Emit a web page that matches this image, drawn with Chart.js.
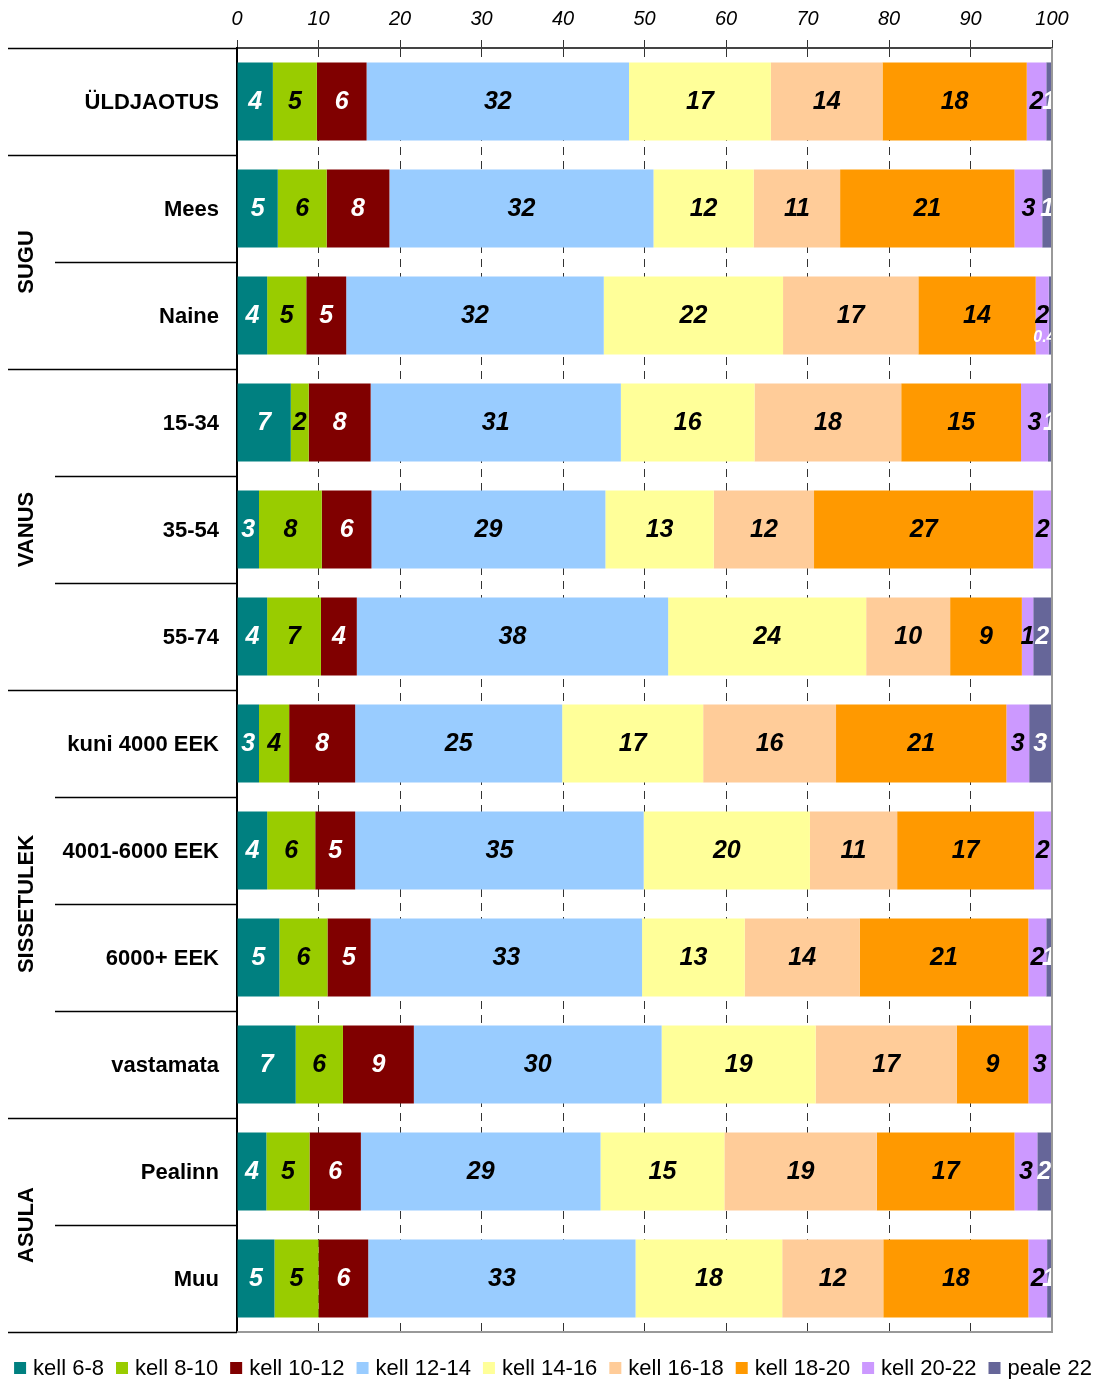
<!DOCTYPE html>
<html>
<head>
<meta charset="utf-8">
<script src="https://cdn.jsdelivr.net/npm/chart.js@4.4.1/dist/chart.umd.min.js"></script>
<style>
  html, body { margin: 0; padding: 0; background: #fff; }
</style>
</head>
<body>
<canvas id="chart" width="1096" height="1379"></canvas>
<script>
const categories = ['ÜLDJAOTUS', 'Mees', 'Naine', '15-34', '35-54', '55-74',
  'kuni 4000 EEK', '4001-6000 EEK', '6000+ EEK', 'vastamata', 'Pealinn', 'Muu'];

// group name, first and last row index
const groupNames = ['', 'SUGU', 'VANUS', 'SISSETULEK', 'ASULA'];
const groupStart = [0, 1, 3, 6, 10];
const groupEnd = [0, 2, 5, 9, 11];

const seriesNames = ['kell 6-8', 'kell 8-10', 'kell 10-12', 'kell 12-14', 'kell 14-16',
  'kell 16-18', 'kell 18-20', 'kell 20-22', 'peale 22'];

const kell6_8   = [4.4, 5.0, 3.7, 6.6, 2.7, 3.7, 2.7, 3.7, 5.2, 7.2, 3.6, 4.6];
const kell8_10  = [5.4, 6.0, 4.8, 2.2, 7.7, 6.6, 3.7, 5.9, 5.9, 5.8, 5.3, 5.4];
const kell10_12 = [6.1, 7.7, 4.9, 7.6, 6.1, 4.4, 8.1, 4.9, 5.3, 8.7, 6.3, 6.1];
const kell12_14 = [32.2, 32.4, 31.6, 30.7, 28.7, 38.2, 25.4, 35.4, 33.3, 30.4, 29.4, 32.8];
const kell14_16 = [17.4, 12.3, 22.0, 16.4, 13.3, 24.3, 17.3, 20.4, 12.6, 18.9, 15.2, 18.0];
const kell16_18 = [13.7, 10.6, 16.6, 18.0, 12.3, 10.3, 16.3, 10.7, 14.1, 17.3, 18.7, 12.4];
const kell18_20 = [17.7, 21.4, 14.4, 14.7, 26.9, 8.8, 20.9, 16.8, 20.7, 8.8, 16.9, 17.8];
const kell20_22 = [2.4, 3.4, 1.6, 3.3, 2.3, 1.4, 2.8, 2.1, 2.2, 2.8, 2.8, 2.3];
const peale22   = [0.7, 1.2, 0.4, 0.5, 0, 2.2, 2.7, 0, 0.7, 0, 1.7, 0.5];

const xTicks = [0, 10, 20, 30, 40, 50, 60, 70, 80, 90, 100];

const seriesValues = [kell6_8, kell8_10, kell10_12, kell12_14, kell14_16,
  kell16_18, kell18_20, kell20_22, peale22];
const colors = ['#008080', '#99CC00', '#800000', '#99CCFF', '#FFFF99',
  '#FFCC99', '#FF9900', '#CC99FF', '#666699'];
const textColors = ['#fff', '#000', '#fff', '#000', '#000', '#000', '#000', '#000', '#fff'];

const FONT = '"Liberation Sans", Arial, sans-serif';

// values inside bars, category names, group names, row lines and legend
const decorPlugin = {
  id: 'decor',
  afterDatasetsDraw(chart) {
    const ctx = chart.ctx;
    const area = chart.chartArea;
    ctx.save();
    ctx.beginPath();
    ctx.rect(area.left, area.top, area.right - area.left, area.bottom - area.top);
    ctx.clip();
    ctx.textAlign = 'center';
    ctx.textBaseline = 'middle';
    chart.data.datasets.forEach((ds, di) => {
      const meta = chart.getDatasetMeta(di);
      meta.data.forEach((bar, i) => {
        const v = ds.data[i];
        if (!v) return;
        const cx = (bar.x + bar.base) / 2;
        ctx.fillStyle = textColors[di];
        if (v >= 0.5) {
          ctx.font = 'italic bold 25px ' + FONT;
          ctx.fillText(String(Math.round(v)), cx, bar.y + 1);
        } else {
          ctx.font = 'italic bold 16px ' + FONT;
          ctx.fillText(v.toFixed(1), cx - 6, bar.y + 22);
        }
      });
    });
    ctx.restore();
  },
  afterDraw(chart) {
    const ctx = chart.ctx;
    const area = chart.chartArea;
    const y = chart.scales.y;
    const rowEdge = i => {
      if (i <= 0) return area.top;
      if (i >= categories.length) return area.bottom;
      return (y.getPixelForValue(i - 1) + y.getPixelForValue(i)) / 2;
    };
    ctx.save();
    // category names
    ctx.fillStyle = '#000';
    ctx.textAlign = 'right';
    ctx.textBaseline = 'middle';
    ctx.font = 'bold 22px ' + FONT;
    categories.forEach((c, i) => ctx.fillText(c, 219, y.getPixelForValue(i) + 1));
    // row separators
    ctx.strokeStyle = '#000';
    ctx.lineWidth = 1.5;
    for (let i = 0; i <= categories.length; i++) {
      const full = i === 0 || i === categories.length || groupStart.includes(i);
      const py = Math.round(rowEdge(i)) + 0.5;
      ctx.beginPath();
      ctx.moveTo(full ? 8 : 55, py);
      ctx.lineTo(area.left, py);
      ctx.stroke();
    }
    // group names
    ctx.textAlign = 'center';
    groupNames.forEach((g, k) => {
      if (!g) return;
      const cy = (rowEdge(groupStart[k]) + rowEdge(groupEnd[k] + 1)) / 2;
      ctx.save();
      ctx.translate(27, cy);
      ctx.rotate(-Math.PI / 2);
      ctx.fillText(g, 0, 0);
      ctx.restore();
    });
    // right and bottom frame
    ctx.strokeStyle = '#999';
    ctx.lineWidth = 2;
    ctx.beginPath();
    ctx.moveTo(area.right, area.top);
    ctx.lineTo(area.right, area.bottom);
    ctx.lineTo(area.left, area.bottom);
    ctx.stroke();
    // legend in one row along the bottom
    ctx.font = '22px ' + FONT;
    ctx.textAlign = 'left';
    const box = 12, gap = 7, space = 12;
    const items = chart.data.datasets.map(d => ({ text: d.label, color: d.backgroundColor, w: ctx.measureText(d.label).width }));
    const total = items.reduce((s, it) => s + box + gap + it.w, 0) + space * (items.length - 1);
    let lx = (chart.width - total) / 2 + 5;
    const ly = 1368;
    items.forEach(it => {
      ctx.fillStyle = it.color;
      ctx.fillRect(lx, ly - box / 2, box, box);
      ctx.fillStyle = '#000';
      ctx.fillText(it.text, lx + box + gap, ly + 1);
      lx += box + gap + it.w + space;
    });
    ctx.restore();
  }
};

const ctx = document.getElementById('chart').getContext('2d');
new Chart(ctx, {
  type: 'bar',
  data: {
    labels: categories,
    datasets: seriesNames.map((name, i) => ({
      label: name,
      data: seriesValues[i],
      backgroundColor: colors[i],
      borderWidth: 0,
      categoryPercentage: 1,
      barPercentage: 0.73
    }))
  },
  options: {
    indexAxis: 'y',
    responsive: false,
    animation: false,
    layout: { padding: { left: 0, right: 44, top: 0, bottom: 47 } },
    scales: {
      x: {
        position: 'top',
        stacked: true,
        min: 0,
        max: 100,
        afterBuildTicks: s => { s.ticks = xTicks.map(v => ({ value: v })); },
        afterFit: s => { s.height = 48; },
        ticks: {
          color: '#000',
          padding: 9,
          font: { family: FONT, size: 20, style: 'italic' }
        },
        grid: { color: '#333', lineWidth: 1, tickLength: 8 },
        border: { display: true, color: '#444', width: 2, dash: [8, 6] }
      },
      y: {
        stacked: true,
        afterFit: s => { s.width = 237; },
        ticks: { display: false },
        grid: { display: false },
        border: { display: true, color: '#000', width: 2 }
      }
    },
    plugins: {
      tooltip: { enabled: false },
      legend: { display: false }
    }
  },
  plugins: [decorPlugin]
});
</script>
</body>
</html>
